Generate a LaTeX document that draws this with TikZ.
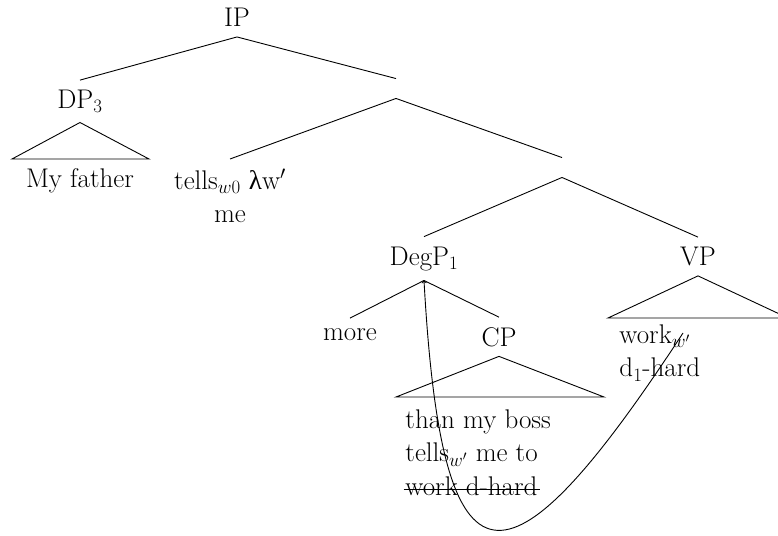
\RequirePackage{fix-cm}
\documentclass[tikz,border=0pt]{standalone}
\usepackage{fontspec}
\newfontfamily\greekfont{Liberation Serif}
\begin{document}
\begin{tikzpicture}[x=1pt, y=-1pt, line width=0.9pt,
  every node/.style={font=\fontsize{27}{33.5}\selectfont},
  cat/.style={inner sep=9.5pt, anchor=base},
  emptynode/.style={inner sep=9.5pt, anchor=center},
  leaf/.style={inner sep=0pt}]
\useasboundingbox (0,0) rectangle (778,535);

% phrase labels
\node[cat] (IP) at (237,27) {IP};
\node[cat] (DP) at (80,108.5) {DP$_3$};
\node[emptynode] (n1) at (396,88.5) {};
\node[cat, anchor=north, align=center] (tells) at (230,159)
  {tells$_{w0}$ {\greekfont λ}w$'$\\me};
\node[emptynode] (n2) at (562,167.5) {};
\node[cat] (DegP) at (424,265) {DegP$_1$};
\node[cat] (VP) at (698,265.5) {VP};
\node[cat] (more) at (350,340) {more};
\node[cat] (CP) at (499,346) {CP};

% material under the triangles
\node[leaf, anchor=base] (father) at (80,187) {My father};
\node[leaf, anchor=north west, align=left] (cptext) at (405,409.3)
  {than my boss\\tells$_{w'}$ me to};
\node[leaf, anchor=base west] (struck) at (405,495) {work d-hard};
\node[leaf, anchor=north west, align=left] (vptext) at (619,324.3)
  {work$_{w'}$\\d$_1$-hard};

% branches
\draw (IP.south) -- (DP.north);
\draw (IP.south) -- (n1.north);
\draw (n1.south) -- (tells.north);
\draw (n1.south) -- (n2.north);
\draw (n2.south) -- (DegP.north);
\draw (n2.south) -- (VP.north);
\draw (DegP.south) -- (more.north);
\draw (DegP.south) -- (CP.north);

% triangles
\coordinate (dpL) at (12,159);
\coordinate (dpR) at (149,159);
\draw (DP.south) -- (dpL) -- (dpR) -- cycle;
\coordinate (cpL) at (396,397);
\coordinate (cpR) at (604,397);
\draw (CP.south) -- (cpL) -- (cpR) -- cycle;
\coordinate (vpL) at (608,318);
\coordinate (vpR) at (788,318);
\draw (VP.south) -- (vpL) -- (vpR) -- cycle;

% deleted copy is struck through
\draw ([xshift=-1.5pt,yshift=6pt]struck.base west) -- ([xshift=2pt,yshift=6pt]struck.base east);

% movement of the degree phrase
\coordinate (trace) at (683,333);
\draw[->] (trace) .. controls +(-178,272) and +(18,323) .. (DegP.south);
\end{tikzpicture}
\end{document}
